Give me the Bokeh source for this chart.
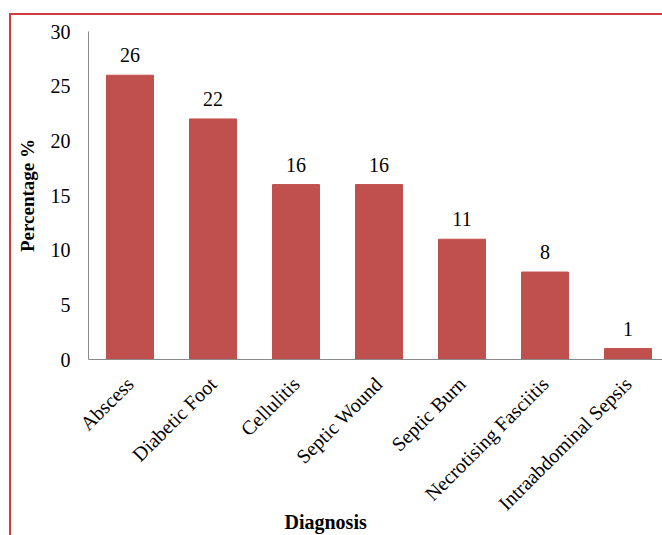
import math
from bokeh.plotting import figure
from bokeh.models import Range1d, FixedTicker, ColumnDataSource, Title
from bokeh.core.properties import value
from bokeh.embed import file_html
from bokeh.resources import INLINE

categories = ["Abscess", "Diabetic Foot", "Cellulitis", "Septic Wound",
              "Septic Burn", "Necrotising Fasciitis", "Intraabdominal Sepsis"]
percentages = [26, 22, 16, 16, 11, 8, 1]
y_ticks = [0, 5, 10, 15, 20, 25, 30]

FONT = "Liberation Serif"
positions = [i + 1 for i in range(len(categories))]
src = ColumnDataSource(dict(x=positions, y=percentages,
                            lbl=[str(v) for v in percentages]))

p = figure(frame_width=574, frame_height=328, output_backend="svg",
           toolbar_location=None,
           x_range=Range1d(0.5, 7.4157), y_range=Range1d(0, 30),
           min_border_left=77, min_border_right=0, min_border_top=16,
           min_border_bottom=178)
p.styles = {"margin-left": "9px", "margin-top": "13px",
            "border-left": "2px solid #d23a42", "border-top": "2px solid #d23a42"}
p.outline_line_color = None
p.grid.grid_line_color = None

p.vbar(x="x", top="y", width=0.566, source=src, fill_color="#C0504D",
       line_color="#C0504D")
p.text(x="x", y="y", text="lbl", source=src, text_align="center",
       text_baseline="bottom", y_offset=-13, text_font=value(FONT),
       text_font_size="20px", text_color="black")

# x axis
xa = p.xaxis[0]
xa.ticker = FixedTicker(ticks=positions)
xa.major_label_overrides = {pos: c for pos, c in zip(positions, categories)}
xa.major_label_orientation = math.pi / 4
xa.major_label_text_font = FONT
xa.major_label_text_font_size = "20px"
xa.major_label_text_color = "black"
xa.major_tick_line_color = None
xa.minor_tick_line_color = None
xa.major_tick_out = 0
xa.major_tick_in = 0
xa.axis_line_color = "#8a8a8a"
xa.major_label_standoff = 21

# y axis
ya = p.yaxis[0]
ya.ticker = FixedTicker(ticks=y_ticks)
ya.major_label_text_font = FONT
ya.major_label_text_font_size = "20px"
ya.major_label_text_color = "black"
ya.major_tick_line_color = None
ya.minor_tick_line_color = None
ya.axis_line_color = "#8a8a8a"
ya.major_label_standoff = 12
ya.axis_label = "Percentage %"
ya.axis_label_text_font = FONT
ya.axis_label_text_font_size = "19px"
ya.axis_label_text_font_style = "bold"
ya.axis_label_text_color = "black"
ya.axis_label_standoff = 10

p.add_layout(Title(text="Diagnosis", align="left", offset=196, standoff=-30,
                   vertical_align="top",
                   text_font=FONT, text_font_size="20px",
                   text_font_style="bold", text_color="black"), "below")

open("out.html", "w").write(file_html(p, INLINE))
